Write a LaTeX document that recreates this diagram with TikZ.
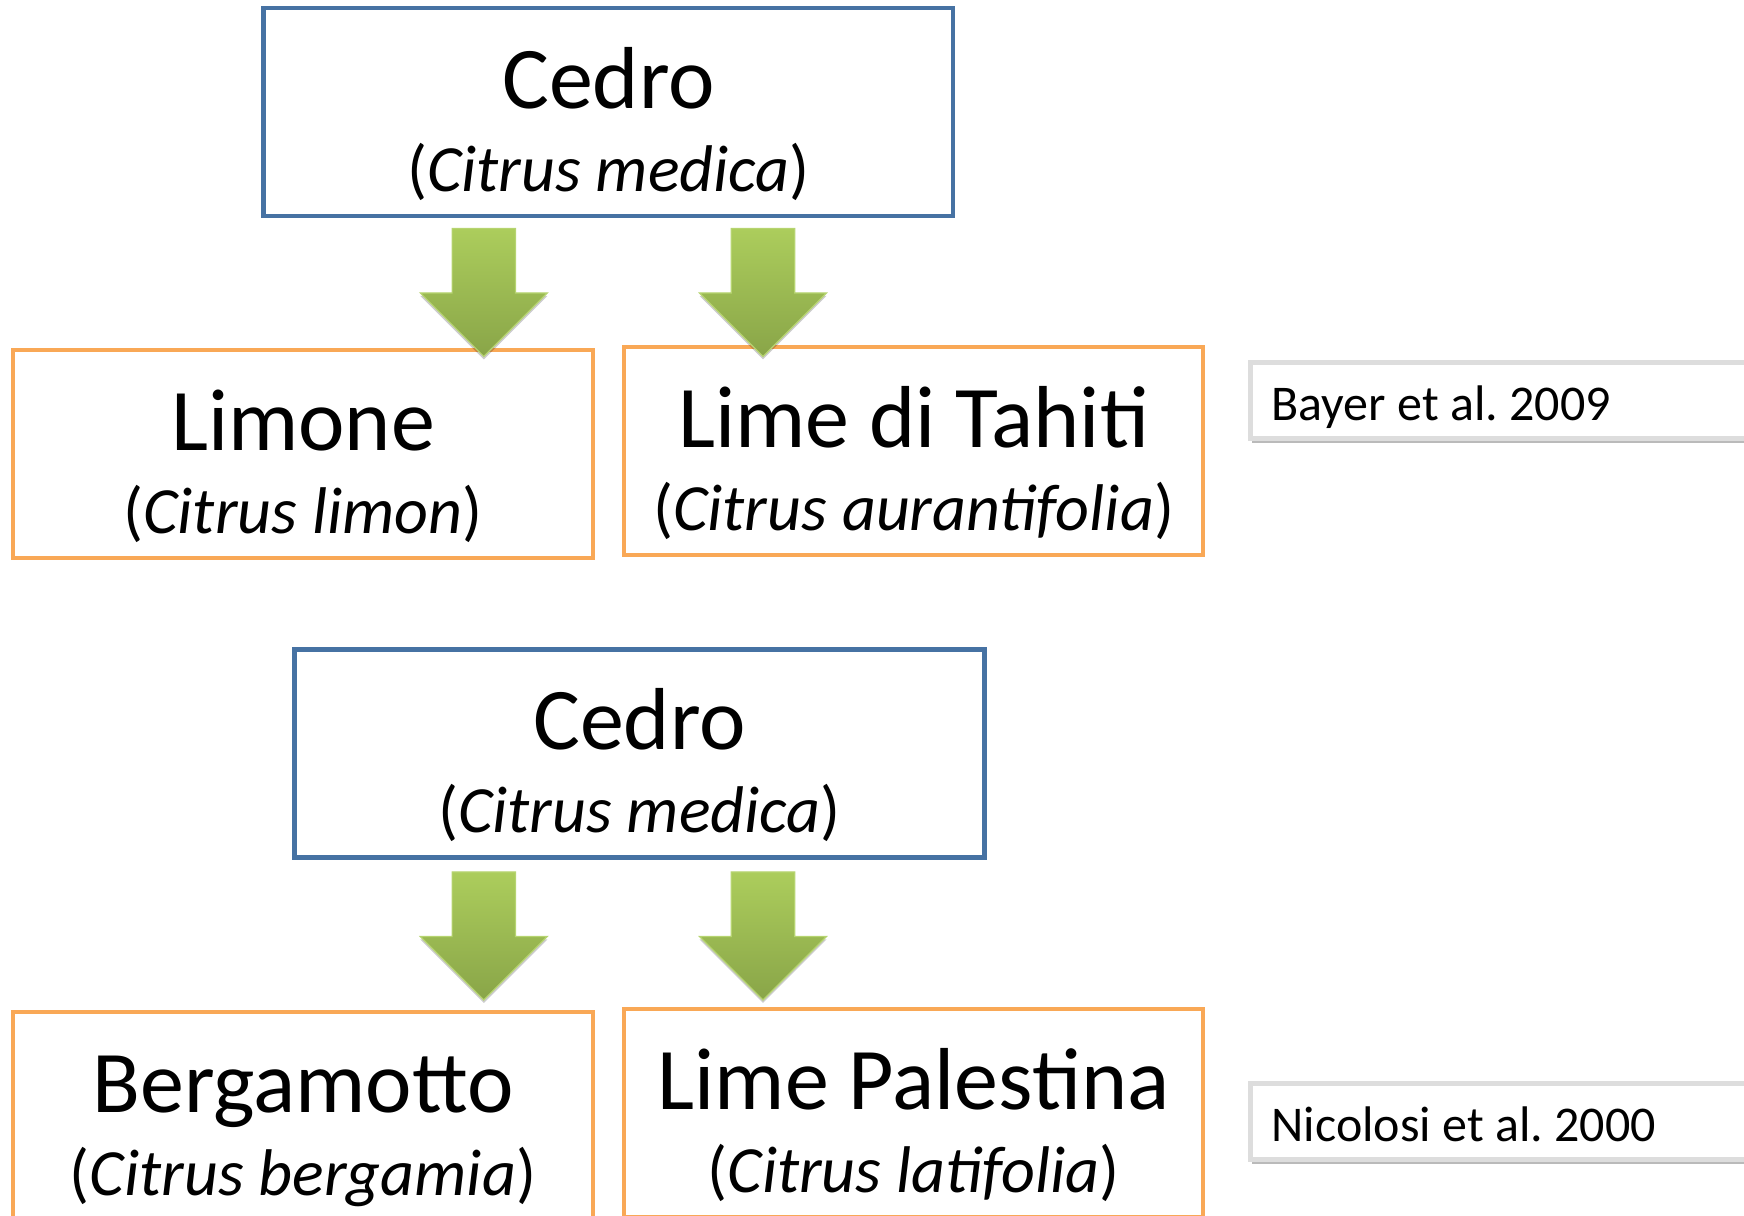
\documentclass[tikz,border=0pt]{standalone}
\usepackage{fontspec}
\setmainfont{Carlito}
\usetikzlibrary{shadows}
\definecolor{cedroblue}{RGB}{70,114,163}
\definecolor{hybridorange}{RGB}{249,168,86}
\definecolor{arrowtop}{RGB}{172,205,92}
\definecolor{arrowbot}{RGB}{137,165,72}
\definecolor{arrowedge}{RGB}{182,212,112}
\definecolor{citeedge}{RGB}{221,221,221}
% two-line label: common name over the latin name
\newcommand{\species}[2]{{\fontsize{44pt}{44pt}\selectfont\rule{0pt}{49.75pt}#1}\\(\textit{#2})\rule[-12pt]{0pt}{12pt}}

\begin{document}
\begin{tikzpicture}[x=0.5pt,y=-0.5pt,
  parent/.style={rectangle, draw=cedroblue, line width=2.25pt, minimum width=344.8pt, minimum height=104pt, inner sep=0pt, align=center, font=\fontsize{33pt}{41.5pt}\selectfont},
  child/.style={parent, draw=hybridorange, line width=2pt, minimum width=289.7pt},
  cite/.style={rectangle, draw=citeedge, line width=2.5pt, fill=white, anchor=north west, inner xsep=10.5pt, inner ysep=0pt, text width=320pt, align=flush left, text height=29pt, text depth=8.75pt, font=\fontsize{25pt}{30pt}\selectfont\frenchspacing, drop shadow={shadow xshift=0.5pt, shadow yshift=-2.5pt, fill=black!60, opacity=0.45}},
  downarrow/.pic={
    \shadedraw[top color=arrowtop, bottom color=arrowbot, draw=arrowedge, line width=0.6pt, drop shadow={shadow xshift=0pt, shadow yshift=-1.5pt, fill=black, opacity=0.2}]
      (-15.85pt,0pt) -- (15.85pt,0pt) -- (15.85pt,-32.25pt) -- (31.75pt,-32.25pt)
      -- (0pt,-64pt) -- (-31.75pt,-32.25pt) -- (-15.85pt,-32.25pt) -- cycle;
  },
]
\useasboundingbox (0,0) rectangle (1744,1215);

\def\xL{303}\def\xR{913.7}

% --- first scheme ---
\node[parent] (cedroA) at (608.4,111.8) {\species{Cedro}{Citrus medica}};
\node[child] (limone) at (\xL,454.3) {\species{Limone}{Citrus limon}};
\node[child] (tahiti) at (\xR,451) {\species{Lime di Tahiti}{Citrus aurantifolia}};
\node[cite] (bayer) at (1248,360) {Bayer et al. 2009};

\pic at ([xshift=-62.3pt,yshift=-5.2pt]cedroA.south) {downarrow};
\pic at ([xshift=77.3pt,yshift=-5.2pt]cedroA.south) {downarrow};

% --- second scheme ---
\node[parent] (cedroB) at (639.5,753.5) {\species{Cedro}{Citrus medica}};
\node[child] (bergamotto) at (\xL,1116) {\species{Bergamotto}{Citrus bergamia}};
\node[child] (palestina) at (\xR,1112.8) {\species{Lime Palestina}{Citrus latifolia}};
\node[cite] (nicolosi) at (1248,1081) {Nicolosi et al. 2000};

\pic at ([xshift=-77.85pt,yshift=-6.1pt]cedroB.south) {downarrow};
\pic at ([xshift=61.75pt,yshift=-6.1pt]cedroB.south) {downarrow};

\end{tikzpicture}
\end{document}
